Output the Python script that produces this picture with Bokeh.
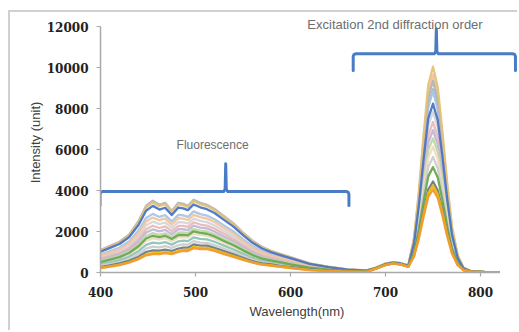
from bokeh.plotting import figure
from bokeh.models import Range1d, Label, Title
from bokeh.embed import file_html
from bokeh.resources import INLINE

# ---------------- data ----------------
wavelength = [400, 410, 420, 430, 440, 448, 455, 462, 468, 475, 482, 487, 492, 498, 505, 512,
              520, 530, 540, 550, 560, 570, 580, 590, 600, 620, 640, 660, 680,
              690, 700, 708, 716, 724, 730, 735, 740, 745, 750, 755, 760, 765, 770, 776, 782,
              790, 805, 820]

s_lightgray = [750, 900, 1050, 1310, 1770, 2300, 2480, 2360, 2440, 2180, 2460, 2450, 2390, 2630, 2520, 2460,
               2300, 2030, 1760, 1430, 1130, 910, 770, 650, 540, 320, 200, 110, 70,
               220, 410, 480, 440, 320, 1350, 3070, 5220, 7150, 7840, 7060, 5340, 3390, 1760, 660, 190, 60, 15, 10]
s_pink = [680, 820, 960, 1200, 1630, 2110, 2280, 2170, 2250, 2020, 2270, 2270, 2220, 2450, 2340, 2290,
          2140, 1890, 1630, 1330, 1050, 840, 710, 600, 500, 300, 180, 100, 70,
          220, 400, 470, 430, 310, 1280, 2880, 4890, 6690, 7340, 6610, 5000, 3180, 1650, 620, 180, 50, 15, 10]
s_purple = [620, 750, 880, 1110, 1500, 1950, 2100, 2010, 2080, 1870, 2110, 2110, 2070, 2290, 2190, 2150,
            2000, 1760, 1520, 1240, 970, 780, 670, 560, 460, 270, 170, 90, 60,
            210, 400, 470, 430, 310, 1220, 2730, 4620, 6330, 6940, 6250, 4730, 3010, 1560, 590, 170, 50, 15, 10]
s_lightgreen = [550, 680, 810, 1010, 1370, 1780, 1920, 1840, 1910, 1730, 1940, 1960, 1920, 2120, 2040, 2000,
                1860, 1630, 1410, 1140, 900, 720, 620, 520, 430, 250, 150, 80, 60,
                210, 390, 460, 420, 300, 1160, 2580, 4360, 5970, 6540, 5890, 4460, 2840, 1470, 560, 170, 50, 15, 10]
s_beige = [470, 580, 690, 880, 1190, 1540, 1660, 1610, 1670, 1520, 1710, 1730, 1700, 1890, 1820, 1790,
           1660, 1450, 1250, 1010, 790, 640, 550, 450, 380, 220, 130, 70, 50,
           210, 390, 460, 420, 300, 1100, 2430, 4100, 5600, 6140, 5530, 4190, 2660, 1380, 530, 160, 50, 15, 10]
s_teal = [400, 500, 600, 770, 1040, 1350, 1460, 1420, 1480, 1360, 1520, 1550, 1530, 1710, 1640, 1620,
          1500, 1310, 1120, 910, 710, 570, 490, 400, 330, 190, 110, 60, 40,
          220, 410, 480, 440, 330, 1520, 3490, 5940, 8150, 8940, 8050, 6090, 3870, 2000, 750, 210, 60, 15, 10]
s_lightgray2 = [330, 420, 510, 660, 900, 1160, 1260, 1230, 1290, 1200, 1330, 1370, 1360, 1530, 1460, 1450,
                1340, 1170, 990, 810, 630, 500, 430, 350, 290, 170, 100, 50, 40,
                200, 380, 450, 410, 290, 1020, 2240, 3770, 5150, 5640, 5080, 3850, 2450, 1270, 490, 150, 45, 15, 10]
s_lightblue = [880, 1050, 1220, 1510, 2050, 2660, 2860, 2710, 2800, 2490, 2810, 2790, 2710, 2980, 2850, 2780,
               2600, 2300, 2000, 1630, 1290, 1040, 880, 750, 620, 370, 230, 120, 80,
               230, 420, 490, 450, 330, 1500, 3450, 5880, 8060, 8840, 7960, 6020, 3820, 1980, 740, 210, 60, 15, 10]
s_peach = [820, 980, 1140, 1420, 1920, 2490, 2680, 2550, 2630, 2340, 2650, 2630, 2560, 2810, 2700, 2630,
           2460, 2170, 1890, 1530, 1210, 980, 830, 700, 580, 350, 210, 120, 80,
           240, 430, 500, 460, 340, 1620, 3760, 6410, 8790, 9640, 8680, 6570, 4170, 2150, 810, 230, 60, 15, 10]
s_gray = [1100, 1300, 1500, 1850, 2500, 3250, 3500, 3300, 3400, 3000, 3400, 3350, 3250, 3550, 3400, 3300,
          3100, 2750, 2400, 1950, 1550, 1250, 1050, 900, 750, 450, 280, 150, 100,
          230, 420, 490, 450, 340, 1580, 3640, 6210, 8510, 9340, 8410, 6360, 4040, 2090, 780, 220, 60, 15, 10]
s_tan = [1070, 1270, 1470, 1810, 2450, 3180, 3420, 3230, 3330, 2940, 3330, 3280, 3190, 3480, 3330, 3240,
         3040, 2700, 2350, 1910, 1520, 1220, 1030, 880, 730, 440, 270, 150, 100,
         240, 430, 500, 460, 340, 1680, 3910, 6670, 9150, 10040, 9040, 6840, 4340, 2240, 840, 240, 70, 15, 10]
s_blue = [1010, 1200, 1390, 1720, 2320, 3010, 3250, 3070, 3160, 2800, 3170, 3130, 3040, 3320, 3180, 3090,
          2900, 2570, 2240, 1820, 1450, 1170, 980, 840, 700, 420, 260, 140, 90,
          220, 410, 480, 440, 320, 1410, 3230, 5480, 7510, 8240, 7420, 5620, 3570, 1840, 700, 200, 60, 15, 10]
s_green = [510, 630, 750, 950, 1280, 1660, 1790, 1730, 1790, 1630, 1830, 1840, 1810, 2010, 1930, 1890,
           1760, 1540, 1330, 1080, 850, 680, 580, 490, 400, 240, 140, 80, 50,
           200, 380, 450, 410, 290, 950, 2050, 3440, 4690, 5140, 4630, 3510, 2230, 1160, 450, 140, 45, 15, 10]
s_darkgray = [260, 350, 440, 570, 770, 1000, 1080, 1070, 1120, 1050, 1170, 1210, 1210, 1370, 1310, 1310,
              1200, 1040, 880, 720, 550, 440, 390, 310, 260, 150, 80, 50, 30,
              200, 370, 440, 400, 280, 840, 1780, 2970, 4050, 4440, 4000, 3030, 1930, 1010, 390, 120, 45, 15, 10]
s_yellow = [220, 300, 380, 500, 680, 880, 950, 950, 1000, 950, 1050, 1100, 1100, 1250, 1200, 1200,
            1100, 950, 800, 650, 500, 400, 350, 280, 230, 130, 70, 40, 30,
            190, 370, 440, 400, 280, 810, 1710, 2840, 3870, 4240, 3820, 2900, 1850, 960, 380, 120, 40, 15, 10]
s_orange = [210, 290, 360, 480, 650, 840, 900, 900, 950, 900, 1000, 1050, 1050, 1190, 1140, 1140,
            1050, 900, 760, 620, 480, 380, 330, 270, 220, 120, 70, 40, 30,
            190, 360, 430, 390, 280, 780, 1630, 2710, 3690, 4040, 3640, 2760, 1760, 920, 360, 115, 40, 15, 10]

series = [s_lightgray, s_pink, s_purple, s_lightgreen, s_beige, s_teal, s_lightgray2, s_lightblue,
          s_peach, s_gray, s_tan, s_blue, s_green, s_darkgray, s_yellow, s_orange]
series_colors = ["#d6d6d6", "#e9b9b9", "#c5b5d6", "#bcd8a8", "#eedcc0", "#8cc4b8", "#cccccc", "#a8c6e6",
                 "#f0c4a0", "#b4b4b4", "#e3c27a", "#4a74c4", "#6aa84f", "#6c7a86", "#f2b705", "#ee9b2f"]

x_ticks = [400, 500, 600, 700, 800]
y_ticks = [0, 2000, 4000, 6000, 8000, 10000, 12000]
x_title = "Wavelength(nm)"
y_title = "Intensity (unit)"

# annotation braces: (start, end, tip position, level, end level, tip level)
fluo_brace = (399.5, 661.5, 531.8, 3950, 3270, 5300)
exc_brace = (666.0, 836.8, 753.5, 10670, 9850, 11890)
fluo_text = ("Fluorescence", 518, 6200)
exc_text = ("Excitation 2nd diffraction order", 710, 12120)

# ---------------- figure ----------------
p = figure(width=509, height=320, x_range=Range1d(400, 841.05), y_range=Range1d(0, 12683),
           output_backend="svg", toolbar_location=None,
           min_border_left=90, min_border_right=0, min_border_top=0, min_border_bottom=60,
           margin=(10, 0, 0, 8))
p.styles = {"border-left": "2px solid #d0d0d0", "border-top": "2px solid #d0d0d0"}
p.outline_line_color = None
p.grid.visible = False
p.background_fill_color = "white"
p.border_fill_color = "white"

for ys, c in zip(series, series_colors):
    p.line(wavelength, ys, line_color=c, line_width=2.3, line_alpha=0.95, line_join="round")


def brace(b):
    x0, x1, xm, lev, end, tip = b
    r = 3.0
    h = 130
    xs = [x0, x0, x0 + r * 0.3, x0 + r, xm - 2.2, xm - 0.6, xm, xm + 0.6, xm + 2.2,
          x1 - r, x1 - r * 0.3, x1, x1]
    ys = [end, lev - h, lev - h * 0.25, lev, lev, lev + h * 0.8, tip, lev + h * 0.8, lev,
          lev, lev - h * 0.25, lev - h, end]
    return xs, ys


for b in (fluo_brace, exc_brace):
    bx, by = brace(b)
    p.line(bx, by, line_color="#4a7cc6", line_width=3, line_join="round", line_cap="round")

p.add_layout(Label(x=fluo_text[1], y=fluo_text[2], text=fluo_text[0], text_align="center",
                   text_baseline="middle", text_font="Liberation Sans", text_font_size="12px",
                   text_color="#6e6e6e"))
p.add_layout(Label(x=exc_text[1], y=exc_text[2], text=exc_text[0], text_align="center",
                   text_baseline="middle", text_font="Liberation Sans", text_font_size="13px",
                   text_color="#6e6e6e"))

# x axis title, placed under the drawn part of the axis (400-820)
p.add_layout(Title(text=x_title, align="left", offset=149, standoff=5,
                   text_font="Liberation Sans", text_font_size="13px", text_font_style="normal",
                   text_color="#404040"), "below")

for ax in (p.xaxis[0], p.yaxis[0]):
    ax.axis_line_color = "#a8a8a8"
    ax.axis_line_width = 1.5
    ax.major_tick_line_color = "#a8a8a8"
    ax.major_tick_line_width = 1.2
    ax.major_tick_in = 0
    ax.major_tick_out = 4
    ax.minor_tick_line_color = None
    ax.major_label_text_font = "DejaVu Serif"
    ax.major_label_text_font_style = "bold"
    ax.major_label_text_font_size = "12px"
    ax.major_label_text_color = "#222222"
    ax.axis_label_text_font = "Liberation Sans"
    ax.axis_label_text_font_style = "normal"
    ax.axis_label_text_font_size = "13px"
    ax.axis_label_text_color = "#404040"

p.xaxis.ticker = x_ticks
p.yaxis.ticker = y_ticks
p.xaxis.bounds = (400, 820)
p.yaxis.bounds = (0, 12000)
p.yaxis.axis_label = y_title
p.xaxis.major_label_standoff = 10
p.yaxis.major_label_standoff = 8
p.yaxis.axis_label_standoff = 1

open("out.html", "w").write(file_html(p, INLINE))
